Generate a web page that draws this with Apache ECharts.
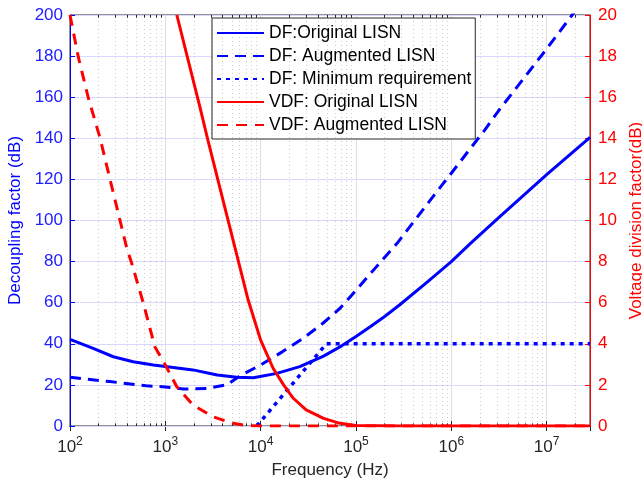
<!DOCTYPE html>
<html><head><meta charset="utf-8">
<script src="https://cdn.jsdelivr.net/npm/echarts@6/dist/echarts.min.js"></script>
<style>html,body{margin:0;padding:0;background:#fff;}#c{width:642px;height:485px;}</style>
</head><body><div id="c"></div>
<script>
// ---- data ----
const seriesNames = ['DF:Original LISN', 'DF: Augmented LISN', 'DF: Minimum requirement', 'VDF: Original LISN', 'VDF: Augmented LISN'];

const dfOrigFreq = [100, 175, 285, 460, 750, 1000, 1950, 3500, 5600, 8400, 14800, 25700, 45700, 70800, 100000, 141000, 200000, 288000, 550000, 1e6, 1.6e6, 3e6, 1e7, 2.85e7];
const dfOrigVal  = [42.2, 37.8, 33.7, 31.3, 29.7, 29.0, 27.3, 24.8, 23.7, 23.5, 25.6, 28.9, 34.0, 39.0, 43.5, 48.3, 53.3, 59.0, 69.8, 80.0, 89.0, 100.5, 122.3, 140.5];

const dfAugFreq = [100, 263, 630, 1000, 1550, 2700, 4400, 6000, 10000, 17000, 28000, 45000, 68000, 102000, 166000, 270000, 790000, 1e6, 1.58e6, 2.2e6, 3.2e6, 4.9e6, 6.8e6, 1e7, 1.85e7, 2.85e7];
const dfAugVal  = [23.7, 21.6, 19.6, 19.0, 18.0, 18.3, 20.0, 24.3, 29.7, 36.2, 42.7, 50.0, 57.3, 66.5, 77.8, 88.9, 117.0, 123.0, 135.0, 143.5, 154.0, 165.0, 173.5, 183.5, 200.0, 211.0];

const dfMinFreq = [9100, 49000, 2.85e7];
const dfMinVal  = [0, 40, 40];

const vdfOrigFreq = [1320, 2310, 2800, 5400, 7400, 10000, 13500, 17400, 22000, 30000, 45700, 68000, 100000, 300000, 2.85e7];
const vdfOrigVal  = [20, 15.5, 13.9, 8.64, 6.13, 4.18, 2.81, 2.0, 1.35, 0.78, 0.37, 0.13, 0.03, 0, 0];

const vdfAugFreq = [100, 122, 155, 207, 263, 321, 394, 444, 589, 776, 1000, 1320, 1950, 3160, 5130, 7000, 10000, 2.85e7];
const vdfAugVal  = [20, 17.97, 16.0, 14.0, 12.0, 10.35, 8.65, 7.92, 5.97, 3.86, 2.97, 1.91, 1.02, 0.45, 0.13, 0.02, 0, 0];

const xMin = 100, xMax = 2.85e7;
const leftTicks = [0, 200, 20];   // min, max, step
const rightTicks = [0, 20, 2];

// minor (2..9 x 10^n) grid/tick positions for the log axis
const minorX = [];
for (let d = 2; d <= 7; d++) for (let m = 2; m <= 9; m++) { const v = m * Math.pow(10, d); if (v < xMax) minorX.push(v); }

const pairs = (f, v) => f.map((x, i) => [x, v[i]]);
const FONT = '"Liberation Sans", Arial, Helvetica, sans-serif';
const BLUE = '#0000ff', RED = '#ff0000', DARK = '#262626';

const chart = echarts.init(document.getElementById('c'), null, {renderer: 'canvas'});
const lineSeries = (name, data, color, type, yIdx, z, w) => ({
  name, type: 'line', data, yAxisIndex: yIdx, showSymbol: false, symbol: 'none',
  smooth: false, z,
  lineStyle: {color, width: w || 3, type, cap: 'butt', join: 'round'}, itemStyle: {color}
});

const minorTickSegs = [];
minorX.forEach(v => {
  minorTickSegs.push([{coord: [v, leftTicks[0]]}, {coord: [v, leftTicks[0] + 1.3]}]);
  minorTickSegs.push([{coord: [v, leftTicks[1]]}, {coord: [v, leftTicks[1] - 1.3]}]);
});

chart.setOption({
  animation: false,
  textStyle: {fontFamily: FONT},
  grid: {left: 70, right: 52, top: 15, bottom: 59, containLabel: false, outerBoundsMode: 'none',
         show: true, borderColor: DARK, borderWidth: 1, backgroundColor: '#fff'},
  legend: {
    data: seriesNames, orient: 'vertical', left: 212, top: 18,
    padding: [6, 4, 5, 4], itemGap: 5, itemWidth: 47, itemHeight: 14,
    backgroundColor: '#fff', borderColor: DARK, borderWidth: 1,
    itemStyle: {opacity: 0},
    textStyle: {fontSize: 17.5, color: '#000', fontFamily: FONT}, selectedMode: false
  },
  xAxis: [{
    type: 'log', min: xMin, max: xMax, logBase: 10, position: 'bottom',
    name: 'Frequency (Hz)', nameLocation: 'middle', nameGap: 36,
    nameTextStyle: {fontSize: 17, color: DARK, fontFamily: FONT},
    axisLine: {show: true, lineStyle: {color: DARK, width: 1}},
    axisTick: {show: true, inside: true, length: 5, lineStyle: {color: DARK}},
    axisLabel: {
      margin: 10, showMaxLabel: false, color: DARK,
      formatter: v => { const e = Math.log10(v); return Math.abs(e - Math.round(e)) < 1e-6 ? '{b|10}{s|' + Math.round(e) + '}' : ''; },
      rich: {b: {fontSize: 17, color: DARK, fontFamily: FONT}, s: {fontSize: 12, color: DARK, fontFamily: FONT, padding: [0, 0, 10, 0]}}
    },
    splitLine: {show: true, lineStyle: {color: '#dedede', width: 1}},
    minorTick: {show: false}
  }, {
    type: 'log', min: xMin, max: xMax, logBase: 10, position: 'top',
    axisLine: {show: true, lineStyle: {color: DARK, width: 1}},
    axisTick: {show: true, inside: true, length: 5, lineStyle: {color: DARK}},
    axisLabel: {show: false}, splitLine: {show: false}
  }],
  yAxis: [
    {
      type: 'value', min: leftTicks[0], max: leftTicks[1], interval: leftTicks[2], position: 'left',
      name: 'Decoupling factor (dB)', nameLocation: 'middle', nameGap: 44,
      nameTextStyle: {fontSize: 17, color: BLUE, fontFamily: FONT},
      axisLine: {show: true, lineStyle: {color: BLUE, width: 1}},
      axisTick: {show: true, inside: true, length: 5, lineStyle: {color: BLUE}},
      axisLabel: {margin: 7, fontSize: 17, color: '#2020ff', fontFamily: FONT},
      splitLine: {show: true, lineStyle: {color: '#d9d9ff', width: 1}},
      z: 3
    },
    {
      type: 'value', min: rightTicks[0], max: rightTicks[1], interval: rightTicks[2], position: 'right',
      name: 'Voltage division factor(dB)', nameLocation: 'middle', nameGap: 34,
      nameTextStyle: {fontSize: 17, color: RED, fontFamily: FONT},
      axisLine: {show: true, lineStyle: {color: RED, width: 1}},
      axisTick: {show: true, inside: true, length: 5, lineStyle: {color: RED}},
      axisLabel: {margin: 8, fontSize: 17, color: RED, fontFamily: FONT},
      splitLine: {show: false},
      z: 3
    }
  ],
  series: [
    {
      name: 'minorGrid', type: 'line', data: [], z: 1, silent: true,
      markLine: {
        silent: true, symbol: ['none', 'none'], label: {show: false}, animation: false,
        lineStyle: {color: 'rgba(0,0,0,0.2)', width: 1, type: [1, 3]},
        data: minorX.map(v => ({xAxis: v}))
      }
    },
    {
      name: 'minorTicks', type: 'line', data: [], z: 2, silent: true,
      markLine: {
        silent: true, symbol: ['none', 'none'], label: {show: false}, animation: false,
        lineStyle: {color: DARK, width: 1, type: 'solid'},
        data: minorTickSegs
      }
    },
    lineSeries(seriesNames[0], pairs(dfOrigFreq, dfOrigVal), BLUE, 'solid', 0, 5),
    lineSeries(seriesNames[1], pairs(dfAugFreq, dfAugVal), BLUE, [11, 7], 0, 5),
    lineSeries(seriesNames[2], pairs(dfMinFreq, dfMinVal), BLUE, [4, 5], 0, 5, 3.5),
    lineSeries(seriesNames[3], pairs(vdfOrigFreq, vdfOrigVal), RED, 'solid', 1, 6),
    lineSeries(seriesNames[4], pairs(vdfAugFreq, vdfAugVal), RED, [11, 8], 1, 6)
  ]
});
</script></body></html>
